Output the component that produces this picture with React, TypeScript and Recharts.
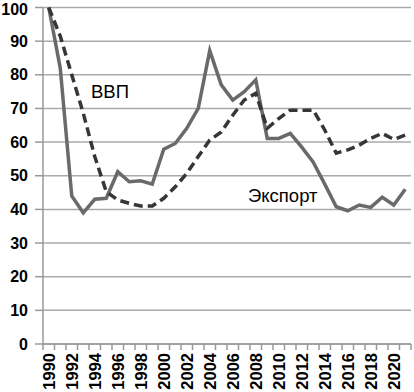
import { LineChart, Line, XAxis, YAxis, CartesianGrid } from 'recharts';

const years = [
  1990, 1991, 1992, 1993, 1994, 1995, 1996, 1997, 1998, 1999, 2000, 2001, 2002, 2003, 2004, 2005,
  2006, 2007, 2008, 2009, 2010, 2011, 2012, 2013, 2014, 2015, 2016, 2017, 2018, 2019, 2020, 2021,
];
const exportIdx = [
  100, 82, 44, 39, 43, 43.3, 51.2, 48.2, 48.5, 47.5, 57.9, 59.6, 64.1, 70, 87.2, 77,
  72.5, 75, 78.5, 61.1, 61.1, 62.6, 58.5, 54, 47.5, 40.8, 39.6, 41.3, 40.6, 43.6, 41.3, 46,
];
const gdpIdx = [
  100, 91.5, 80, 68.6, 55.7, 45.3, 42.8, 41.8, 41, 41, 43.3, 46.7, 50.7, 55.7, 60.6, 63,
  68, 72.5, 74.5, 64.1, 67, 69.5, 69.5, 69.5, 63.6, 56.7, 57.7, 59.1, 61.1, 62.6, 60.8, 62.1,
];
const yTicks = [0, 10, 20, 30, 40, 50, 60, 70, 80, 90, 100];
// tick marks sit between years, labels on every other year
const xTicks = [1989.5, ...years.flatMap((y) => [y, y + 0.5])];

const data = years.map((year, i) => ({ year, exp: exportIdx[i], gdp: gdpIdx[i] }));

const FONT = '"Liberation Sans", Arial, sans-serif';

const XTick = (props: any) => {
  const { x, y, payload } = props;
  const v = payload.value;
  if (v % 1 !== 0) {
    return <line x1={x} x2={x} y1={y} y2={y + 6} stroke="#999" strokeWidth={1.5} />;
  }
  if (v % 2 !== 0) return <g />;
  return (
    <g transform={`translate(${x},${y + 9})`}>
      <text
        transform="rotate(-90)"
        textAnchor="end"
        dy="0.36em"
        fontSize={16.5}
        fontWeight="bold"
        fontFamily={FONT}
        fill="#000"
      >
        {v}
      </text>
    </g>
  );
};

export default function App() {
  return (
    <div style={{ position: 'absolute', left: 0, top: 0, background: '#fff' }}>
      <LineChart
        width={414}
        height={392}
        data={data}
        margin={{ top: 7.5, right: 3, bottom: 0, left: 0 }}
      >
        <CartesianGrid vertical={false} stroke="#aaa" strokeWidth={1.5} />
        <XAxis
          dataKey="year"
          type="number"
          domain={[1989.5, 2021.5]}
          ticks={xTicks}
          interval={0}
          tickSize={0}
          tickMargin={0}
          tickLine={false}
          tick={<XTick />}
          axisLine={{ stroke: '#999', strokeWidth: 1.5 }}
          height={48}
        />
        <YAxis
          domain={[0, 100]}
          ticks={yTicks}
          width={43}
          tickSize={8}
          tickMargin={7}
          tickLine={{ stroke: '#999', strokeWidth: 1.5 }}
          axisLine={{ stroke: '#999', strokeWidth: 1.5 }}
          tick={{ fontSize: 16, fontWeight: 'bold', fontFamily: FONT, fill: '#000' }}
        />
        <Line
          dataKey="exp"
          type="linear"
          stroke="#6a6a6a"
          strokeWidth={3.5}
          dot={false}
          isAnimationActive={false}
        />
        <Line
          dataKey="gdp"
          type="linear"
          stroke="#363636"
          strokeWidth={3.5}
          strokeDasharray="9 5"
          dot={false}
          isAnimationActive={false}
        />
        <text x={91} y={97.5} fontSize={18.5} fontFamily={FONT} fill="#000">
          ВВП
        </text>
        <text x={248} y={202} fontSize={18.5} fontFamily={FONT} fill="#000">
          Экспорт
        </text>
      </LineChart>
    </div>
  );
}
